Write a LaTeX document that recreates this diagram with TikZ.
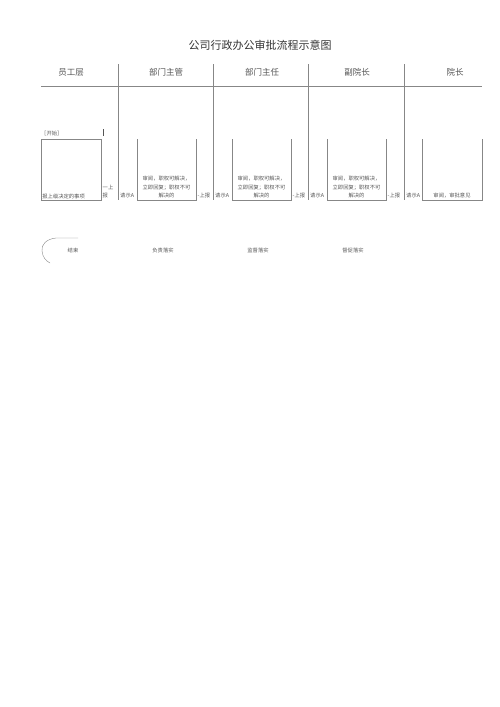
\documentclass[tikz,border=0pt]{standalone}
\usepackage{fontspec}
\setmainfont{Noto Sans CJK SC}
\usetikzlibrary{
  calc,
  positioning,
}
\definecolor{linegray}{RGB}{135, 135, 135}
\definecolor{textgray}{RGB}{85, 85, 85}
\tikzstyle{lane} = [
  draw=linegray,
  line width=0.6pt,
]
\tikzstyle{header} = [
  font=\fontsize{8.5}{10}\selectfont,
  text=textgray,
  inner sep=0pt,
]
\tikzstyle{note} = [
  font=\fontsize{5.3}{8.6}\selectfont,
  text=textgray,
  inner sep=0pt,
  align=center,
]

\begin{document}
\begin{tikzpicture}[
      x=1pt, y=-1pt,
      title/.style={font=\fontsize{11}{13}\selectfont, text=black!80, inner sep=0pt},
    ]
      \useasboundingbox (0,0) rectangle (500,707);
      \node [title] (title) at (260,45) {公司行政办公审批流程示意图};
      \node [header] (staff) at (71,72) {员工层};
      \node [header] (supervisor) at (166,72) {部门主管};
      \node [header] (director) at (262,72) {部门主任};
      \node [header] (vicedean) at (357,72) {副院长};
      \node [header] (dean) at (455,72) {院长};
      \draw [lane] (41,86) -- (482,86);
      \foreach \x in {118.5, 213.5, 308.5, 404.5}
        \draw [lane] (\x,64) -- (\x,200);
      \node [note, anchor=west] (begin) at (41,133.5) {［开始］};
      \draw [textgray, line width=1pt] (103,129) -- (103,136);
      \node [draw=linegray, line width=0.6pt, minimum width=60pt, minimum height=61pt, inner sep=0pt] (request) at (71,169.5) {};
      \node [note, anchor=south west] at ($(request.south west)+(1.5,-1.5)$) {报上级决定的事项};
      \node [note, anchor=south west, align=left] (report1) at (102.5,198.5) {一上\\报};
      \foreach \l/\r [count=\i] in {137/196, 232/291, 327/386, 422/482}
        \draw [lane] (\l,139) coordinate (box\i) -- (\l,200) -- (\r,200) -- (\r,139);
      \foreach \cx in {166.5, 261.5, 356.5}
        \node [note, anchor=south] at (\cx,198.5) {审阅，职权可解决，\\立即回复；职权不可\\解决的};
      \node [note, anchor=south] (approve) at (452,198.5) {审阅，审批意见};
      \foreach \x in {197.5, 292.5, 387.5}
        \node [note, anchor=south west] at (\x,198.5) {-上报};
      \foreach \x in {120, 215, 310, 406}
        \node [note, anchor=south west] at (\x,198.5) {请示A};
      \node [note] (finish) at (73,250) {结束};
      \draw [lane, line width=0.4pt] (78,238) -- (56,238) .. controls (46,239) and (41,245) .. (42,251) .. controls (42.5,257) and (46,261) .. (50,263);
      \node [note] (execute) at (163,250) {负责落实};
      \node [note] (oversee) at (258,250) {监督落实};
      \node [note] (urge) at (353,250) {督促落实};
    \end{tikzpicture}
\end{document}
